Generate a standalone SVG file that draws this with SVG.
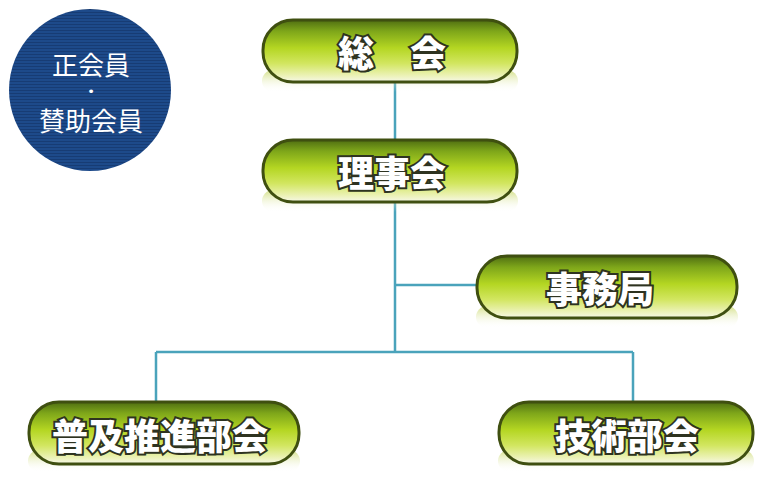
<svg xmlns="http://www.w3.org/2000/svg" width="758" height="483" viewBox="0 0 758 483">
<defs>
<linearGradient id="pill" x1="0" y1="0" x2="0" y2="1">
<stop offset="0" stop-color="#4f6e12"/>
<stop offset="0.18" stop-color="#7ea61a"/>
<stop offset="0.45" stop-color="#b4d622"/>
<stop offset="0.7" stop-color="#d2e660"/>
<stop offset="0.9" stop-color="#ecf2b8"/>
<stop offset="1" stop-color="#f6f8e8"/>
</linearGradient>
<linearGradient id="glow" x1="0" y1="0" x2="0" y2="1">
<stop offset="0" stop-color="#c9d86a" stop-opacity="0.8"/>
<stop offset="1" stop-color="#ffffff" stop-opacity="0"/>
</linearGradient>
<pattern id="tex" width="4" height="3" patternUnits="userSpaceOnUse">
<rect width="4" height="3" fill="#1d4a8a"/>
<rect width="4" height="1" fill="#173c74"/>
</pattern>
</defs>
<style>
.box{fill:url(#pill);stroke:#3f4f10;stroke-width:3}
.sh{fill:url(#glow)}
.lbl{font-family:"Noto Sans CJK JP","Noto Sans CJK SC",sans-serif;font-weight:900;font-size:36px;fill:#ffffff;stroke:#2e3320;stroke-width:4;paint-order:stroke;text-anchor:middle;dominant-baseline:central}
.cl{font-family:"Noto Sans CJK JP","Noto Sans CJK SC",sans-serif;font-size:26px;fill:#ffffff;text-anchor:middle;dominant-baseline:central}
.dot{font-family:"DejaVu Sans",sans-serif;font-size:13px;fill:#ffffff;text-anchor:middle;dominant-baseline:central}
.ln{stroke:#4aa3bb;stroke-width:2.5;fill:none}
</style>
<g id="connectors">
<path class="ln" d="M395,82 V140 M395,200 V352 M395,285 H477 M156,352 H633 M156,352 V402 M633,352 V402"/>
</g>
<g id="members">
<circle cx="90" cy="90" r="81" fill="url(#tex)"/>
<text class="cl" x="91" y="63">正会員</text>
<text class="dot" x="91" y="91">•</text>
<text class="cl" x="91" y="119">賛助会員</text>
</g>
<g id="soukai">
<rect class="sh" x="262" y="70" width="256" height="22" rx="11"/>
<rect class="box" x="263" y="20" width="254" height="62" rx="30"/>
<text class="lbl" x="392" y="51">総　会</text>
</g>
<g id="rijikai">
<rect class="sh" x="262" y="190" width="256" height="22" rx="11"/>
<rect class="box" x="263" y="140" width="254" height="62" rx="30"/>
<text class="lbl" x="392" y="171">理事会</text>
</g>
<g id="jimukyoku">
<rect class="sh" x="476" y="306" width="262" height="22" rx="11"/>
<rect class="box" x="477" y="256" width="260" height="62" rx="30"/>
<text class="lbl" x="600" y="287">事務局</text>
</g>
<g id="fukyu">
<rect class="sh" x="28" y="450" width="272" height="22" rx="11"/>
<rect class="box" x="29" y="402" width="270" height="62" rx="30"/>
<text class="lbl" x="160" y="434">普及推進部会</text>
</g>
<g id="gijutsu">
<rect class="sh" x="498" y="450" width="256" height="22" rx="11"/>
<rect class="box" x="499" y="402" width="254" height="62" rx="30"/>
<text class="lbl" x="627" y="434">技術部会</text>
</g>
</svg>
